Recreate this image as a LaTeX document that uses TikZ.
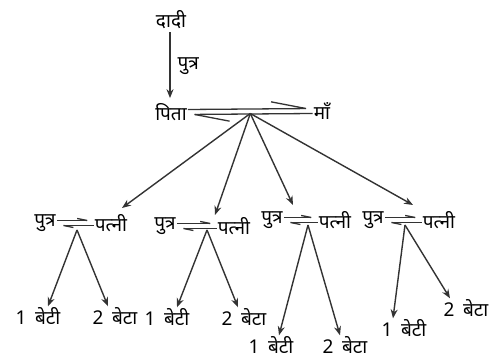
\documentclass[tikz,border=0pt]{standalone}
\usepackage{fontspec}
\newfontfamily\hindi[Script=Devanagari]{Noto Sans}
\usetikzlibrary{arrows.meta,calc}
\tikzset{% looks of the family tree
	lbl/.style={font=\hindi\fontsize{19}{21}\selectfont,inner sep=1pt},
	rel/.style={line width=1.4pt,draw=black!80,-{Stealth[length=9pt,width=7pt]}},
	hpn/.style={line width=1.3pt,draw=black!80,-{Straight Barb[left,length=#1,width=#1/2.5]}},
	hpn/.default=10pt
}
\newcommand{\gap}{\hspace{0.45em}}
\begin{document}
\begin{tikzpicture}[x=1pt,y=-1pt]
\useasboundingbox (0,0) rectangle (491,358);
% top: grandmother, father and mother
\node[lbl] (dadi) at (171,20) {दादी};
\node[lbl] (pita) at (171,112) {पिता};
\node[lbl] (maa) at (322,111) {माँ};
\draw[rel,shorten >=4pt,shorten <=2pt] ([xshift=-1pt]dadi.south) -- node[lbl,right=6pt] (putra) {पुत्र} ([xshift=-1pt]pita.north);
\draw[hpn=35pt] ([yshift=2.5pt]pita.east) -- ([yshift=2.5pt]maa.west);
\draw[hpn=35pt] ([yshift=-2.5pt]maa.west) -- ([yshift=-2.5pt]pita.east);
\coordinate (pm) at ($(pita.east)!0.5!(maa.west)+(0,2)$);
% the four couples
\node[lbl] (s1) at (45,223) {पुत्र};
\node[lbl] (w1) at (111,223) {पत्नी};
\node[lbl] (s2) at (165,226) {पुत्र};
\node[lbl] (w2) at (234,226) {पत्नी};
\node[lbl] (s3) at (272,220) {पुत्र};
\node[lbl] (w3) at (335,220) {पत्नी};
\node[lbl] (s4) at (373,220) {पुत्र};
\node[lbl] (w4) at (439,220) {पत्नी};
\foreach \n in {1,2,3,4}{
	\draw[hpn] ([yshift=2.5pt]s\n.east) -- ([yshift=2.5pt]w\n.west);
	\draw[hpn] ([yshift=-2.5pt]w\n.west) -- ([yshift=-2.5pt]s\n.east);
}
\coordinate (top1) at (122,208);
\coordinate (top2) at (215,215);
\coordinate (top3) at (293,205);
\coordinate (top4) at (413,205);
\foreach \n in {1,2,3,4}
	\draw[rel] (pm) -- (top\n);
% children
\node[lbl] (d1) at (38,316) {1\gap बेटी};
\node[lbl] (b1) at (115,316) {2\gap बेटा};
\node[lbl] (d2) at (167,317) {1\gap बेटी};
\node[lbl] (b2) at (244,317) {2\gap बेटा};
\node[lbl] (d3) at (271,345) {1\gap बेटी};
\node[lbl] (b3) at (345,345) {2\gap बेटा};
\node[lbl] (d4) at (404,328) {1\gap बेटी};
\node[lbl] (b4) at (466,308) {2\gap बेटा};
\coordinate (m1) at (77,230);
\coordinate (m2) at (207,230);
\coordinate (m3) at (308,225);
\coordinate (m4) at (405,225);
\draw[rel] (m1) -- ([xshift=10pt]d1.north);
\draw[rel] (m1) -- ([xshift=-7pt]b1.north);
\draw[rel] (m2) -- ([xshift=10pt]d2.north);
\draw[rel] (m2) -- ([xshift=-6pt]b2.north);
\draw[rel] (m3) -- ([xshift=8pt]d3.north);
\draw[rel] (m3) -- ([xshift=-5pt]b3.north);
\draw[rel] (m4) -- ([xshift=-11pt]d4.north);
\draw[rel] (m4) -- ([xshift=-16pt]b4.north);
\end{tikzpicture}
\end{document}
